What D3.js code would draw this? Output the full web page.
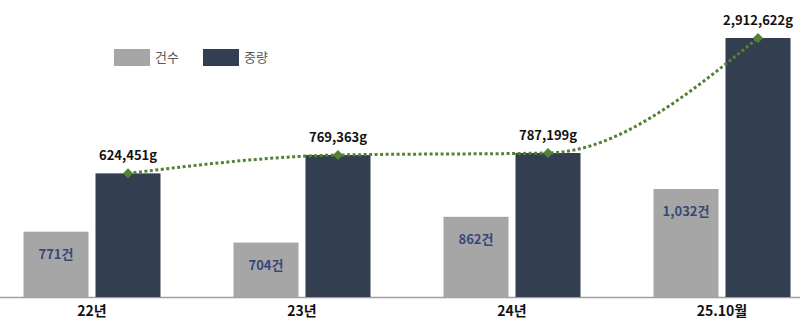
<!DOCTYPE html>
<html>
<head>
<meta charset="utf-8">
<script src="https://cdn.jsdelivr.net/npm/d3@7"></script>
<style>
  body { margin: 0; background: #fff; }
  text { font-family: "Malgun Gothic", "Noto Sans CJK KR", sans-serif; }
</style>
</head>
<body>
<div id="wrapper"></div>
<script>
// data
const categories = ["22년", "23년", "24년", "25.10월"]
const counts = [771, 704, 862, 1032]
const weights = [624451, 769363, 787199, 2912622]
const seriesNames = ["건수", "중량"]

function drawChart() {
  const width = 800
  const height = 319
  const baseline = 297

  const colors = { count: "#a6a6a6", weight: "#333f50", line: "#548235" }

  const svg = d3.select("#wrapper")
    .append("svg")
      .attr("width", width)
      .attr("height", height)

  // scales
  const xScale = d3.scalePoint()
    .domain(categories)
    .range([92, 722])

  const countScale = d3.scaleLinear()
    .domain([371, 1032])
    .range([baseline, 189])

  // weight bars aren't proportional in the original, a log scale gets close
  const weightScale = d3.scaleLog()
    .domain([153000, 2912622])
    .range([baseline, 38])

  const barWidth = 65
  const gap = 3.5

  // axis line
  svg.append("line")
    .attr("x1", 0)
    .attr("x2", width)
    .attr("y1", baseline + 0.5)
    .attr("y2", baseline + 0.5)
    .attr("stroke", "#a0a0a0")
    .attr("stroke-width", 1.5)

  // count bars
  svg.append("g").selectAll("rect")
    .data(categories)
    .join("rect")
      .attr("x", d => xScale(d) - gap - barWidth)
      .attr("y", (d, i) => countScale(counts[i]))
      .attr("width", barWidth)
      .attr("height", (d, i) => baseline - countScale(counts[i]))
      .attr("fill", colors.count)

  // weight bars
  svg.append("g").selectAll("rect")
    .data(categories)
    .join("rect")
      .attr("x", d => xScale(d) + gap)
      .attr("y", (d, i) => weightScale(weights[i]))
      .attr("width", barWidth)
      .attr("height", (d, i) => baseline - weightScale(weights[i]))
      .attr("fill", colors.weight)

  // count labels
  svg.append("g").selectAll("text")
    .data(categories)
    .join("text")
      .attr("x", d => xScale(d) - gap - barWidth / 2)
      .attr("y", (d, i) => countScale(counts[i]) + 27)
      .text((d, i) => d3.format(",")(counts[i]) + "건")
      .attr("text-anchor", "middle")
      .attr("fill", "#34497a")
      .style("font-size", "13px")
      .style("font-weight", "bold")

  // trend line
  const points = categories.map((d, i) => [xScale(d) + gap + barWidth / 2, weightScale(weights[i])])
  const lineGen = d3.line().curve(d3.curveMonotoneX)

  svg.append("path")
    .attr("d", lineGen(points))
    .attr("fill", "none")
    .attr("stroke", colors.line)
    .attr("stroke-width", 3)
    .attr("stroke-dasharray", "3 2.5")

  svg.append("g").selectAll("path")
    .data(points)
    .join("path")
      .attr("d", d3.symbol(d3.symbolSquare, 50)())
      .attr("transform", d => `translate(${d[0]},${d[1]}) rotate(45)`)
      .attr("fill", colors.line)

  // weight labels
  svg.append("g").selectAll("text")
    .data(categories)
    .join("text")
      .attr("x", d => xScale(d) + gap + barWidth / 2)
      .attr("y", (d, i) => weightScale(weights[i]) - 13)
      .text((d, i) => d3.format(",")(weights[i]) + "g")
      .attr("text-anchor", "middle")
      .attr("fill", "#111")
      .style("font-size", "13px")
      .style("font-weight", "bold")

  // category labels
  svg.append("g").selectAll("text")
    .data(categories)
    .join("text")
      .attr("x", d => xScale(d))
      .attr("y", 316)
      .text(d => d)
      .attr("text-anchor", "middle")
      .attr("fill", "#111")
      .style("font-size", "14px")
      .style("font-weight", "bold")

  // legend
  const legend = svg.append("g")
    .attr("transform", "translate(114, 49)")
  const legendItems = legend.selectAll("g")
    .data(seriesNames)
    .join("g")
      .attr("transform", (d, i) => `translate(${i * 89}, 0)`)
  legendItems.append("rect")
    .attr("width", 36)
    .attr("height", 17)
    .attr("fill", (d, i) => i == 0 ? colors.count : colors.weight)
  legendItems.append("text")
    .attr("x", 41)
    .attr("y", 13)
    .text(d => d)
    .attr("fill", "#595959")
    .style("font-size", "13px")
}
drawChart()
</script>
</body>
</html>
